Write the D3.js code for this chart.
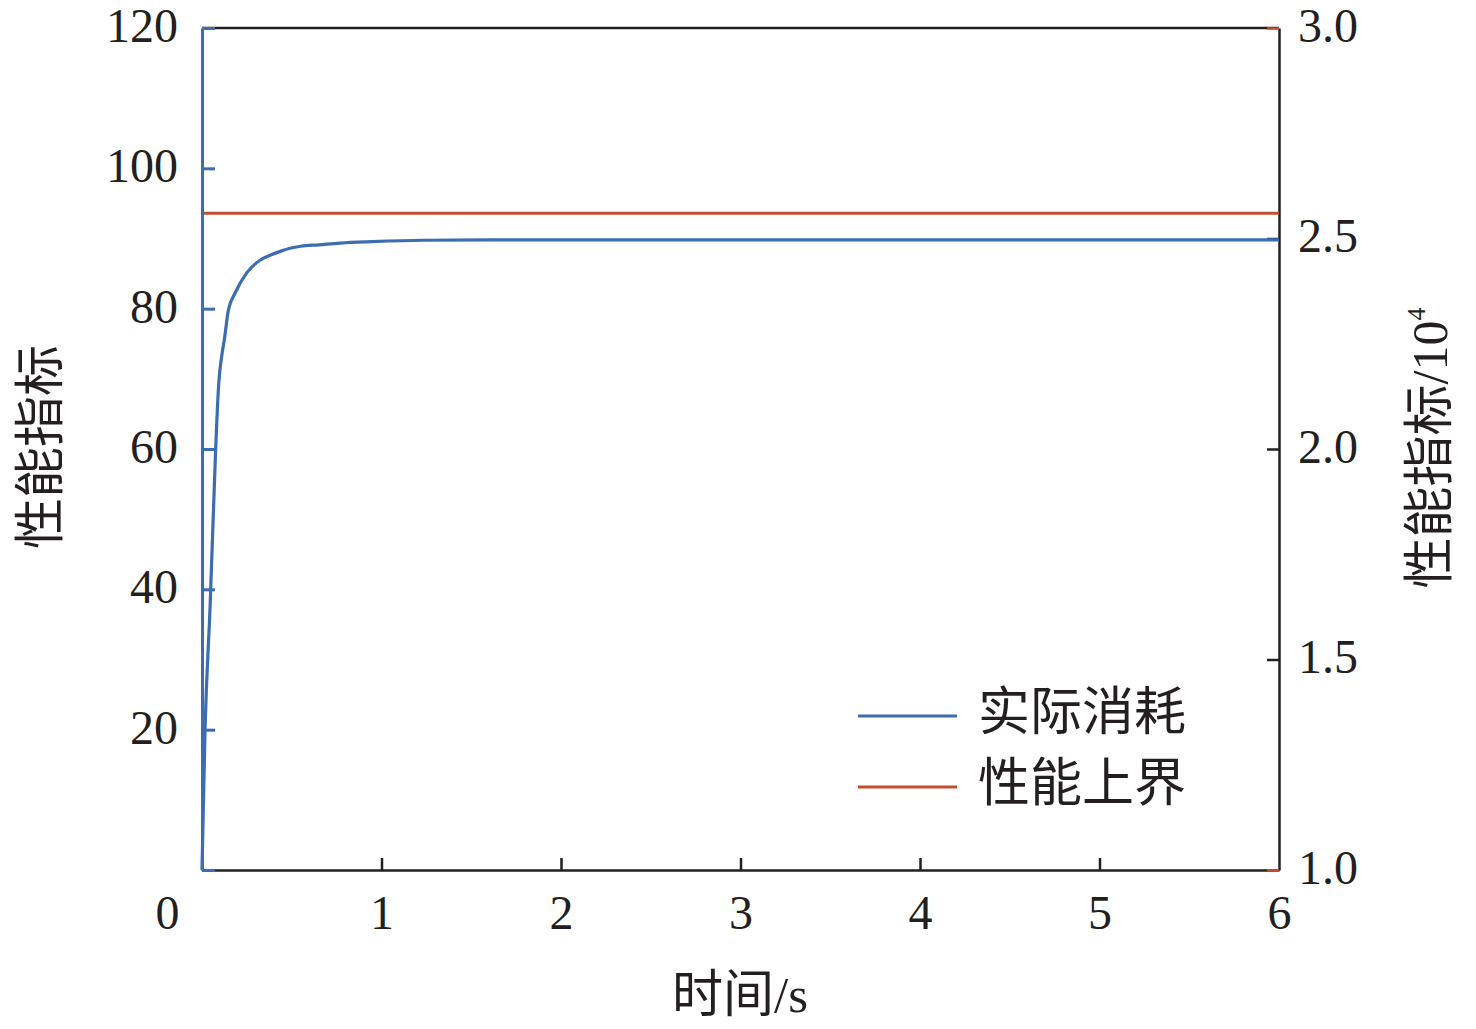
<!DOCTYPE html>
<html>
<head>
<meta charset="utf-8">
<script src="https://cdn.jsdelivr.net/npm/d3@7"></script>
<style>
  html, body { margin: 0; padding: 0; background: #fff; }
  svg { display: block; }
  .num { font-family: "Liberation Serif", "Times New Roman", serif; font-size: 48px; fill: #231f20; }
  .cjk { font-family: "Noto Sans CJK SC", sans-serif; font-size: 51px; fill: #231f20; }
</style>
</head>
<body>
<svg id="chart" width="1476" height="1029"></svg>
<script>
// Time axis (s)
const xTicks = [0, 1, 2, 3, 4, 5, 6];
// Left axis: performance index
const leftTicks = [0, 20, 40, 60, 80, 100, 120];
// Right axis: performance index (×10^4)
const rightTicks = [1.0, 1.5, 2.0, 2.5, 3.0];

// Actual consumption over time
const costTime  = [0, 0.017, 0.045, 0.076, 0.091, 0.115, 0.124, 0.147, 0.184, 0.249, 0.323, 0.379, 0.44, 0.49, 0.55, 0.65, 0.77, 0.95, 1.23, 1.6, 2.16, 3, 4, 5, 6];
const costValue = [0, 20.0, 37.5, 59.9, 68.4, 74.1, 75.5, 79.8, 82.2, 85.1, 86.9, 87.6, 88.2, 88.6, 88.9, 89.1, 89.35, 89.55, 89.75, 89.8, 89.8, 89.8, 89.8, 89.8, 89.8];

// Performance upper bound (×10^4, right axis)
const boundTime  = [0, 6];
const boundValue = [2.56, 2.56];

const legendNames = ["实际消耗", "性能上界"];
const BLUE = "#3c6db1";
const RED = "#c14f2f";
const INK = "#231f20";

const svg = d3.select("#chart");
const M = { left: 202, top: 28, right: 197, bottom: 159 };
const W = 1476 - M.left - M.right;
const H = 1029 - M.top - M.bottom;

const x = d3.scaleLinear().domain([0, 6]).range([0, W]);
const yL = d3.scaleLinear().domain([0, 120]).range([H, 0]);
const yR = d3.scaleLinear().domain([1, 3]).range([H, 0]);

const g = svg.append("g").attr("transform", `translate(${M.left},${M.top})`);

// top spine
g.append("line").attr("x1", 0).attr("x2", W).attr("y1", 0).attr("y2", 0)
  .attr("stroke", INK).attr("stroke-width", 2.5);

// bottom axis (ticks point inward)
const xAxis = g.append("g").attr("transform", `translate(0,${H})`)
  .call(d3.axisBottom(x).tickValues(xTicks).tickSizeInner(-12).tickSizeOuter(0).tickPadding(25).tickFormat(d3.format("d")));
xAxis.select(".domain").attr("stroke", INK).attr("stroke-width", 2.5);
xAxis.selectAll(".tick line").attr("stroke", INK).attr("stroke-width", 2.5)
  .filter(d => d === 0 || d === 6).remove();
xAxis.selectAll(".tick text").attr("class", "num").attr("dy", "0.71em")
  .attr("dx", d => d === 0 ? -35 : 0);

// right axis
const rAxis = g.append("g").attr("transform", `translate(${W},0)`)
  .call(d3.axisRight(yR).tickValues(rightTicks).tickSizeInner(-12).tickSizeOuter(0).tickPadding(19).tickFormat(d3.format(".1f")));
rAxis.select(".domain").attr("stroke", INK).attr("stroke-width", 2.5);
rAxis.selectAll(".tick line").attr("stroke-width", 2.5)
  .attr("stroke", d => (d === 1 || d === 3) ? RED : INK);
rAxis.selectAll(".tick text").attr("class", "num").attr("dy", "0.28em");

// upper bound line
const lineR = d3.line().x((d, i) => x(boundTime[i])).y(d => yR(d));
g.append("path").datum(boundValue).attr("d", lineR)
  .attr("fill", "none").attr("stroke", RED).attr("stroke-width", 3);

// actual consumption curve
const lineL = d3.line().x((d, i) => x(costTime[i])).y(d => yL(d)).curve(d3.curveMonotoneX);
g.append("path").datum(costValue).attr("d", lineL)
  .attr("fill", "none").attr("stroke", BLUE).attr("stroke-width", 3.2).attr("stroke-linejoin", "round");

// left axis (blue), ticks inward
const lAxis = g.append("g")
  .call(d3.axisLeft(yL).tickValues(leftTicks).tickSizeInner(-13).tickSizeOuter(0).tickPadding(24).tickFormat(d3.format("d")));
lAxis.select(".domain").attr("stroke", BLUE).attr("stroke-width", 3);
lAxis.selectAll(".tick line").attr("stroke", BLUE).attr("stroke-width", 3);
lAxis.selectAll(".tick text").attr("class", "num").attr("dy", "0.28em")
  .filter(d => d === 0).remove();

// axis titles
svg.append("text").attr("class", "cjk").attr("text-anchor", "middle")
  .attr("transform", "translate(58,447) rotate(-90)").text("性能指标");

const rt = svg.append("text").attr("class", "cjk").attr("text-anchor", "middle")
  .attr("transform", "translate(1447,448) rotate(-90)");
rt.append("tspan").text("性能指标");
rt.append("tspan").attr("class", "num").style("font-size", "50px").text("/10");
rt.append("tspan").attr("class", "num").style("font-size", "26px").attr("dy", "-22").text("4");

const xt = svg.append("text").attr("class", "cjk").attr("text-anchor", "middle")
  .attr("x", 740).attr("y", 1012);
xt.append("tspan").text("时间");
xt.append("tspan").attr("class", "num").style("font-size", "51px").text("/s");

// legend
const legColors = [BLUE, RED];
const leg = svg.append("g").attr("transform", "translate(858,716)");
legendNames.forEach((name, i) => {
  const row = leg.append("g").attr("transform", `translate(0,${i * 71})`);
  row.append("line").attr("x1", 0).attr("x2", 99).attr("y1", 0).attr("y2", 0)
    .attr("stroke", legColors[i]).attr("stroke-width", 3);
  row.append("text").attr("class", "cjk").attr("x", 120).attr("y", -4).attr("dy", "0.35em")
    .style("font-size", "52px").text(name);
});
</script>
</body>
</html>
